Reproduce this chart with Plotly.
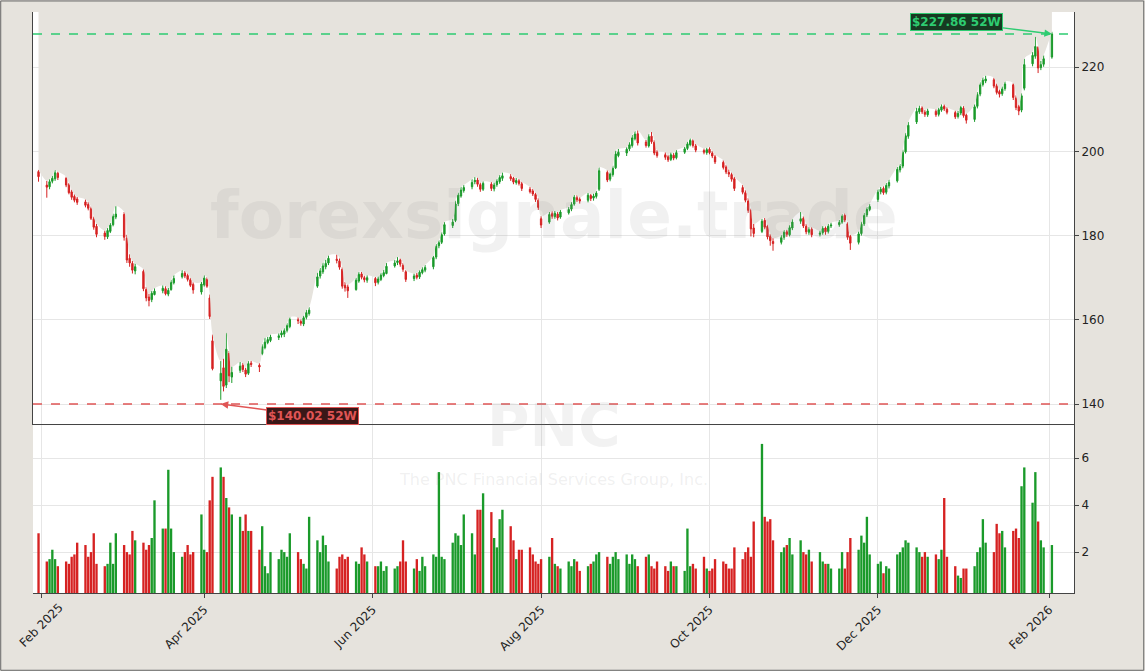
import pandas as pd
import plotly.graph_objects as go

# daily bars, Jan 31 2025 .. Feb 2 2026 (business days)
dates = pd.bdate_range("2025-01-31", "2026-02-02")

opens = [
    195.2,
    192.0, 191.6, 192.9, 193.5, 194.8, 193.6, 192.1, 190.4, 189.3, 188.7,
    188.0, 187.4, 186.4, 184.0, 182.2, 180.6, 179.7, 181.0, 182.6, 184.4,
    185.0, 179.4, 174.6, 173.4, 171.6, 171.5, 167.2, 165.4, 164.8, 166.0,
    166.9, 167.4, 166.1, 167.2, 168.8, 170.2, 171.1, 170.5, 169.5, 168.4,
    166.6, 168.3, 169.6, 165.2, 155.0, 145.5, 148.6, 144.5, 152.0, 146.4,
    148.0, 149.2, 148.1, 147.3, 149.7, 149.2, 152.0, 153.4, 154.6, 155.1,
    155.8, 156.4, 156.6, 157.5, 158.4, 160.0, 159.6, 159.0, 160.6, 161.5,
    168.0, 170.4, 171.4, 172.6, 173.5, 174.4, 174.0, 172.0, 168.2, 167.8,
    167.2, 169.2, 170.9, 170.0, 169.4, 169.8, 168.9, 169.6, 170.5, 171.0,
    172.8, 173.6, 174.2, 173.0, 171.4, 169.8, 170.6, 170.2, 171.2, 171.8,
    172.6, 174.9, 177.6, 178.4, 180.4, 182.4, 183.6, 187.6, 189.4, 190.7,
    191.6, 192.8, 193.2, 192.1, 191.0, 192.2, 191.1, 192.1, 192.8, 193.6,
    194.0, 193.6, 192.6, 193.0, 192.3, 191.0, 190.6, 189.8, 188.4, 184.0,
    183.2, 185.2, 184.5, 185.1, 184.4, 185.4, 186.3, 187.5, 189.0, 188.6,
    188.4, 189.5, 188.9, 189.3, 191.0, 195.0, 193.4, 194.5, 196.1, 199.0,
    199.6, 200.6, 201.4, 203.0, 204.2, 202.2, 201.3, 203.6, 202.2, 199.8,
    199.2, 198.7, 198.1, 199.1, 198.5, 199.8, 200.7, 201.6, 202.5, 201.3,
    200.2, 199.7, 200.5, 199.6, 198.7, 197.4, 196.3, 195.0, 194.5, 193.5,
    191.4, 190.2, 188.2, 186.0, 181.8, 181.0, 183.6, 182.2, 179.8, 178.6,
    178.4, 179.6, 180.9, 180.2, 181.8, 183.4, 184.1, 182.2, 180.8, 181.5,
    180.3, 180.7, 181.8, 181.0, 182.3, 182.6, 183.2, 184.8, 182.8, 179.8,
    178.4, 180.5, 182.8, 184.9, 186.2, 188.6, 190.4, 191.2, 190.3, 191.8,
    193.0, 195.6, 196.5, 199.9, 203.6, 207.0, 209.4, 210.3, 209.3, 208.7,
    209.5, 208.8, 209.8, 210.7, 210.0, 209.2, 208.3, 209.1, 210.3, 208.6,
    207.6, 210.7, 213.6, 215.9, 216.7, 217.0, 215.6, 214.2, 213.7, 214.9,
    215.8, 212.7, 210.6, 209.8, 215.0, 220.8, 222.6, 224.7, 219.9, 220.7,
    222.4,
]
highs = [
    195.6,
    193.0, 193.4, 194.2, 195.6, 195.2, 194.0, 192.5, 190.9, 189.8, 189.2,
    188.6, 188.0, 186.9, 184.5, 182.8, 181.2, 181.8, 183.0, 185.2, 187.0,
    185.6, 180.2, 175.6, 174.0, 173.4, 172.0, 167.8, 166.2, 166.9, 167.5,
    168.2, 168.0, 167.6, 169.5, 170.6, 171.8, 171.6, 171.0, 170.0, 168.9,
    169.0, 170.6, 170.1, 166.0, 156.5, 150.2, 150.8, 157.0, 152.6, 148.9,
    150.0, 149.8, 148.6, 150.2, 150.3, 149.7, 154.2, 155.8, 156.0, 156.5,
    156.8, 157.5, 158.0, 159.2, 160.6, 160.6, 160.1, 161.0, 162.4, 163.0,
    171.2, 172.3, 173.6, 174.3, 175.3, 175.5, 174.6, 172.5, 169.0, 168.4,
    170.0, 171.4, 171.4, 170.5, 170.6, 170.2, 170.3, 171.2, 171.9, 173.5,
    174.2, 174.9, 174.6, 173.5, 171.8, 171.0, 171.2, 171.8, 172.5, 173.0,
    175.2, 178.0, 178.9, 180.8, 183.2, 184.0, 188.3, 190.2, 191.6, 192.0,
    193.4, 193.9, 193.8, 192.6, 192.9, 192.7, 192.6, 193.5, 194.4, 195.0,
    194.6, 194.0, 193.7, 193.5, 192.8, 191.6, 191.1, 190.2, 188.9, 184.6,
    185.6, 185.8, 185.9, 185.6, 186.1, 186.8, 188.0, 189.7, 189.6, 189.1,
    190.2, 189.9, 190.0, 190.6, 196.2, 195.5, 195.0, 196.6, 200.2, 200.6,
    201.0, 202.2, 203.9, 204.8, 205.0, 202.7, 204.2, 204.6, 202.7, 200.3,
    199.8, 199.1, 199.8, 199.6, 200.3, 201.1, 202.3, 203.1, 202.9, 201.8,
    200.7, 200.9, 201.0, 200.1, 199.2, 197.9, 196.8, 195.7, 195.0, 194.0,
    192.0, 190.8, 188.9, 186.4, 182.8, 184.0, 184.2, 182.6, 180.4, 179.4,
    180.1, 181.4, 181.4, 182.5, 183.9, 185.6, 184.6, 182.8, 182.0, 182.0,
    181.2, 182.3, 182.2, 182.8, 183.1, 183.7, 185.1, 185.3, 183.2, 180.2,
    181.0, 183.3, 185.4, 186.8, 187.5, 191.0, 191.6, 191.7, 192.5, 193.3,
    196.3, 197.0, 200.4, 204.4, 207.0, 210.4, 210.9, 210.8, 209.8, 210.2,
    210.0, 210.4, 211.2, 211.2, 210.5, 209.7, 209.6, 210.9, 210.8, 209.0,
    211.2, 214.1, 216.4, 217.6, 218.0, 217.5, 216.1, 214.7, 215.4, 216.6,
    216.2, 213.3, 211.1, 213.8, 222.0, 223.6, 227.3, 225.0, 221.5, 222.8,
    228.4,
]
lows = [
    192.8,
    189.0, 191.0, 192.4, 193.0, 193.2, 191.5, 189.8, 188.5, 187.9, 187.3,
    186.7, 186.0, 183.7, 181.4, 179.6, 179.0, 179.2, 180.6, 182.2, 183.9,
    178.8, 173.5, 172.6, 171.0, 170.8, 166.8, 164.4, 163.2, 164.2, 165.8,
    166.3, 165.8, 165.6, 166.9, 168.4, 169.8, 169.9, 169.1, 167.8, 166.2,
    166.0, 167.9, 167.6, 160.2, 148.0, 141.0, 143.0, 143.8, 145.2, 145.0,
    147.4, 147.6, 146.4, 146.9, 148.8, 147.6, 151.6, 153.0, 154.2, 154.7,
    155.2, 155.8, 155.9, 157.0, 158.0, 159.0, 158.6, 158.5, 160.1, 161.0,
    167.6, 169.8, 170.9, 172.0, 173.0, 173.4, 171.9, 167.4, 166.7, 165.2,
    166.9, 168.8, 169.6, 168.9, 168.8, 168.0, 168.4, 169.2, 170.1, 170.8,
    172.4, 173.0, 172.6, 171.4, 169.0, 169.2, 169.6, 169.7, 170.8, 171.3,
    172.0, 174.4, 177.0, 178.0, 180.0, 181.8, 183.2, 187.0, 189.0, 190.2,
    191.0, 192.2, 191.6, 190.4, 190.6, 190.6, 190.5, 191.6, 192.3, 193.0,
    193.0, 192.2, 192.1, 191.9, 190.6, 190.0, 189.4, 188.0, 186.1, 181.8,
    182.8, 184.0, 184.0, 183.6, 184.0, 185.0, 185.8, 187.1, 188.0, 187.6,
    187.9, 188.2, 188.3, 188.8, 190.6, 192.7, 192.9, 194.0, 195.8, 198.6,
    198.9, 200.1, 200.9, 202.6, 201.4, 200.9, 200.9, 201.8, 199.1, 198.5,
    198.0, 197.5, 197.7, 197.9, 198.1, 199.4, 200.3, 201.2, 200.9, 199.8,
    199.3, 199.2, 199.3, 198.4, 197.0, 195.7, 194.6, 193.9, 192.8, 190.6,
    189.8, 187.9, 185.4, 179.8, 179.6, 180.6, 181.5, 179.1, 177.6, 176.4,
    177.9, 179.0, 179.7, 179.8, 181.3, 182.8, 181.8, 180.3, 180.2, 179.6,
    179.8, 180.2, 180.2, 180.5, 181.8, 182.1, 182.8, 183.2, 179.0, 176.6,
    177.9, 180.0, 182.3, 184.4, 185.8, 188.0, 189.8, 189.7, 189.8, 191.2,
    192.6, 195.0, 196.0, 199.5, 203.0, 206.5, 208.9, 208.9, 208.2, 208.2,
    208.2, 208.3, 209.4, 209.6, 208.8, 207.7, 207.8, 208.6, 208.0, 206.6,
    207.0, 210.2, 213.1, 215.4, 216.2, 215.0, 213.5, 212.8, 213.2, 214.4,
    212.2, 209.8, 208.6, 209.3, 214.5, 220.2, 222.0, 218.6, 219.3, 220.1,
    222.0,
]
closes = [
    194.0,
    191.5, 192.8, 193.6, 194.9, 193.8, 192.0, 190.2, 189.1, 188.4, 187.9,
    187.2, 186.5, 184.1, 182.0, 180.3, 179.8, 181.2, 182.5, 184.6, 185.1,
    179.6, 174.2, 173.5, 171.8, 172.6, 167.4, 165.2, 164.6, 166.3, 166.8,
    167.5, 166.2, 167.0, 168.9, 169.8, 171.0, 170.4, 169.6, 168.2, 167.1,
    168.5, 169.9, 168.0, 160.8, 148.4, 147.3, 144.2, 153.0, 146.7, 147.5,
    149.0, 148.2, 147.1, 149.6, 149.4, 148.8, 153.6, 154.7, 155.3, 155.9,
    156.2, 156.9, 157.4, 158.6, 160.1, 159.8, 159.2, 160.5, 161.7, 162.3,
    170.2, 171.6, 172.8, 173.4, 174.6, 174.1, 172.5, 168.0, 167.6, 166.9,
    169.4, 170.8, 170.1, 169.5, 170.0, 168.8, 169.7, 170.6, 171.2, 172.7,
    173.5, 174.0, 173.2, 172.0, 169.6, 170.4, 170.1, 171.3, 171.9, 172.4,
    174.8, 177.5, 178.3, 180.2, 182.6, 183.2, 187.5, 189.6, 190.8, 191.4,
    192.6, 193.1, 192.2, 191.0, 192.4, 191.2, 192.0, 192.9, 193.8, 194.2,
    193.5, 192.7, 193.1, 192.4, 191.2, 190.4, 189.9, 188.6, 186.7, 182.5,
    185.0, 184.6, 185.3, 184.2, 185.6, 186.2, 187.4, 189.1, 188.5, 188.2,
    189.6, 188.8, 189.4, 190.1, 195.4, 193.2, 194.6, 196.0, 199.4, 199.8,
    200.5, 201.6, 203.2, 204.1, 202.0, 201.4, 203.5, 202.3, 199.6, 199.0,
    198.6, 198.0, 199.2, 198.4, 199.7, 200.6, 201.8, 202.6, 201.4, 200.3,
    199.8, 200.4, 199.7, 198.9, 197.5, 196.2, 195.1, 194.6, 193.4, 191.2,
    190.3, 188.4, 186.0, 181.6, 180.5, 183.4, 182.0, 179.7, 178.8, 178.1,
    179.5, 180.8, 180.3, 181.9, 183.2, 184.0, 182.3, 180.9, 181.4, 180.2,
    180.6, 181.7, 180.9, 182.2, 182.5, 183.1, 184.6, 183.7, 179.6, 178.2,
    180.4, 182.7, 184.8, 186.2, 186.9, 190.3, 191.0, 190.2, 191.9, 192.6,
    195.7, 196.4, 199.8, 203.7, 206.2, 209.5, 210.2, 209.4, 208.8, 209.6,
    208.7, 209.9, 210.6, 210.1, 209.3, 208.2, 209.0, 210.4, 208.5, 207.4,
    210.6, 213.5, 215.8, 216.9, 217.2, 215.5, 214.0, 213.6, 214.8, 216.0,
    212.8, 210.4, 209.6, 213.2, 220.6, 222.8, 224.9, 219.8, 220.6, 222.0,
    227.9,
]
volumes = [  # millions
    2.8,
    1.6, 1.7, 2.1, 1.7, 1.4, 1.6, 1.5, 1.8, 1.9, 2.4,
    2.3, 1.8, 2.0, 2.8, 1.5, 1.4, 1.5, 2.4, 1.5, 2.8,
    2.3, 2.0, 1.9, 2.9, 2.5, 2.4, 2.1, 2.3, 2.6, 4.2,
    3.0, 3.0, 5.5, 3.0, 2.0, 1.8, 2.0, 2.3, 1.9, 2.0,
    3.6, 2.1, 2.0, 4.2, 5.2, 5.6, 5.2, 4.3, 3.9, 3.6,
    3.5, 2.9, 3.6, 2.9, 2.9, 2.1, 3.1, 1.4, 1.1, 2.0,
    1.7, 2.1, 2.0, 1.8, 2.8, 2.0, 1.7, 1.5, 1.3, 3.5,
    2.5, 2.0, 2.7, 2.3, 1.6, 1.3, 1.8, 1.9, 1.7, 1.8,
    1.6, 1.5, 2.2, 1.9, 1.6, 1.4, 1.4, 1.6, 1.2, 1.4,
    1.3, 1.4, 1.6, 2.5, 1.6, 1.3, 1.7, 1.2, 1.8, 1.4,
    1.9, 1.8, 5.4, 1.8, 1.7, 2.4, 2.8, 2.7, 2.3, 3.6,
    2.8, 1.9, 3.8, 3.8, 4.5, 3.7, 2.6, 2.2, 3.4, 3.8,
    3.1, 2.5, 1.7, 2.1, 2.1, 2.2, 1.9, 1.6, 1.5, 1.7,
    1.8, 2.6, 1.5, 1.4, 1.3, 1.6, 1.4, 1.7, 1.6, 1.2,
    1.4, 1.5, 1.6, 1.9, 2.0, 1.8, 1.5, 1.8, 2.0, 1.7,
    1.9, 1.5, 1.9, 1.7, 1.4, 1.8, 1.9, 1.4, 1.3, 1.6,
    1.4, 1.2, 1.6, 1.4, 1.4, 1.2, 3.0, 1.4, 1.5, 1.3,
    1.8, 1.3, 1.2, 1.3, 1.7, 1.6, 1.5, 1.3, 1.3, 2.2,
    1.7, 2.0, 2.2, 1.8, 3.3, 6.6, 3.5, 3.3, 3.4, 2.5,
    2.0, 2.2, 2.3, 2.6, 1.9, 2.5, 2.0, 1.9, 2.1, 1.6,
    2.0, 1.6, 1.5, 1.5, 1.3, 1.3, 2.0, 1.3, 2.0, 2.6,
    2.1, 2.7, 2.4, 3.5, 1.9, 1.5, 1.6, 1.1, 1.4, 1.3,
    1.9, 2.0, 2.2, 2.5, 2.4, 2.2, 2.0, 1.8, 2.0, 1.8,
    1.9, 1.7, 2.1, 4.3, 1.8, 1.4, 1.0, 0.9, 1.3, 1.3,
    1.4, 2.0, 2.2, 3.4, 2.4, 2.0, 3.2, 2.8, 2.9, 2.2,
    2.9, 3.0, 2.6, 4.8, 5.6, 4.1, 5.4, 3.3, 2.5, 2.2,
    2.3,
]
low_52w = 140.02
high_52w = 227.86
ticker = "PNC"
company = "The PNC Financial Services Group, Inc."

GREEN = "#1a9a2a"
RED = "#d62222"
PRICE_TOP = 233.1

vol_colors = [GREEN if c >= o else RED for o, c in zip(opens, closes)]

fig = go.Figure()

# beige shading above price
fig.add_trace(go.Scatter(x=dates, y=[PRICE_TOP] * len(dates), mode="lines",
                         line=dict(width=0), hoverinfo="skip", showlegend=False))
fig.add_trace(go.Scatter(x=dates, y=highs, mode="lines", line=dict(width=0, shape="spline"),
                         fill="tonexty", fillcolor="#e6e3dd",
                         hoverinfo="skip", showlegend=False))

fig.add_trace(go.Candlestick(
    x=dates, open=opens, high=highs, low=lows, close=closes,
    increasing=dict(line=dict(color=GREEN, width=1), fillcolor=GREEN),
    decreasing=dict(line=dict(color=RED, width=1), fillcolor=RED),
    whiskerwidth=0, showlegend=False, yaxis="y",
))

fig.add_trace(go.Bar(x=dates, y=volumes, marker_color=vol_colors,
                     marker_line_width=0, yaxis="y2", showlegend=False))

# 52-week lines
fig.add_hline(y=high_52w, line=dict(color="#2ecc71", dash="dash", width=1.5), yref="y")
fig.add_hline(y=low_52w, line=dict(color="#e05555", dash="dash", width=1.5), yref="y")

fig.add_annotation(x=dates[-1], y=high_52w, xref="x", yref="y",
                   text=f"<b>${high_52w:.2f} 52W</b>", font=dict(color="#2ecc71", size=12),
                   bgcolor="#173a22", bordercolor="#2ecc71", borderwidth=1,
                   showarrow=True, arrowhead=2, arrowcolor="#2ecc71", arrowwidth=1.5,
                   ax=-95, ay=-12)
low_idx = lows.index(min(lows))
fig.add_annotation(x=dates[low_idx], y=low_52w, xref="x", yref="y",
                   text=f"<b>${low_52w:.2f} 52W</b>", font=dict(color="#e05555", size=12),
                   bgcolor="#3a1717", bordercolor="#e05555", borderwidth=1,
                   showarrow=True, arrowhead=2, arrowcolor="#e05555", arrowwidth=1.5,
                   ax=92, ay=12)

# first month label (plotly drops it at the left edge)
fig.add_annotation(x="2025-02-01", y=0, xref="x", yref="paper", yanchor="top",
                   text="Feb 2025", textangle=-45, showarrow=False, yshift=-4,
                   font=dict(size=12, color="#222"))

# watermarks
fig.add_annotation(x=0.5, y=0.72, xref="paper", yref="paper", showarrow=False,
                   text="<b>forexsignale.trade</b>", font=dict(size=66, color="rgba(150,150,150,0.13)"))
fig.add_annotation(x=0.5, y=0.225, xref="paper", yref="paper", showarrow=False,
                   text=f"<b>{ticker}</b>", font=dict(size=58, color="rgba(150,150,150,0.12)"))
fig.add_annotation(x=0.5, y=0.175, xref="paper", yref="paper", showarrow=False,
                   text=company, font=dict(size=16, color="rgba(150,150,150,0.15)"))

# outer frame
fig.add_shape(type="rect", xref="paper", yref="paper",
              x0=-0.031, x1=1.067, y0=-0.133, y1=1.019,
              line=dict(color="#666", width=1))

axis_common = dict(showline=True, linecolor="#444", mirror=True, gridcolor="#e6e6e6",
                   tickfont=dict(size=12, color="#222"), ticks="outside", ticklen=4,
                   zeroline=False, automargin=False)

fig.update_layout(
    width=1145, height=671,
    margin=dict(l=33, r=71, t=12, b=78),
    paper_bgcolor="#e6e3dd", plot_bgcolor="white",
    font=dict(family="DejaVu Sans"),
    bargap=0.15,
    xaxis=dict(**axis_common, type="date", range=["2025-01-29", "2026-02-10"],
               dtick="M2", tick0="2025-02-01", tickformat="%b %Y", tickangle=-45,
               rangeslider=dict(visible=False), anchor="y2"),
    yaxis=dict(**axis_common, domain=[0.289, 1], range=[135.0, PRICE_TOP], side="right",
               dtick=20),
    yaxis2=dict(showline=True, linecolor="#444", gridcolor="#e6e6e6",
                tickfont=dict(size=12, color="#222"), ticks="outside", ticklen=4,
                zeroline=False, automargin=False,
                domain=[0, 0.289], range=[0.26, 7.4], side="right", tickvals=[2, 4, 6]),
    showlegend=False,
)

fig.write_html("out.html", config={"displayModeBar": False},
               post_script="document.body.style.margin='0';")
